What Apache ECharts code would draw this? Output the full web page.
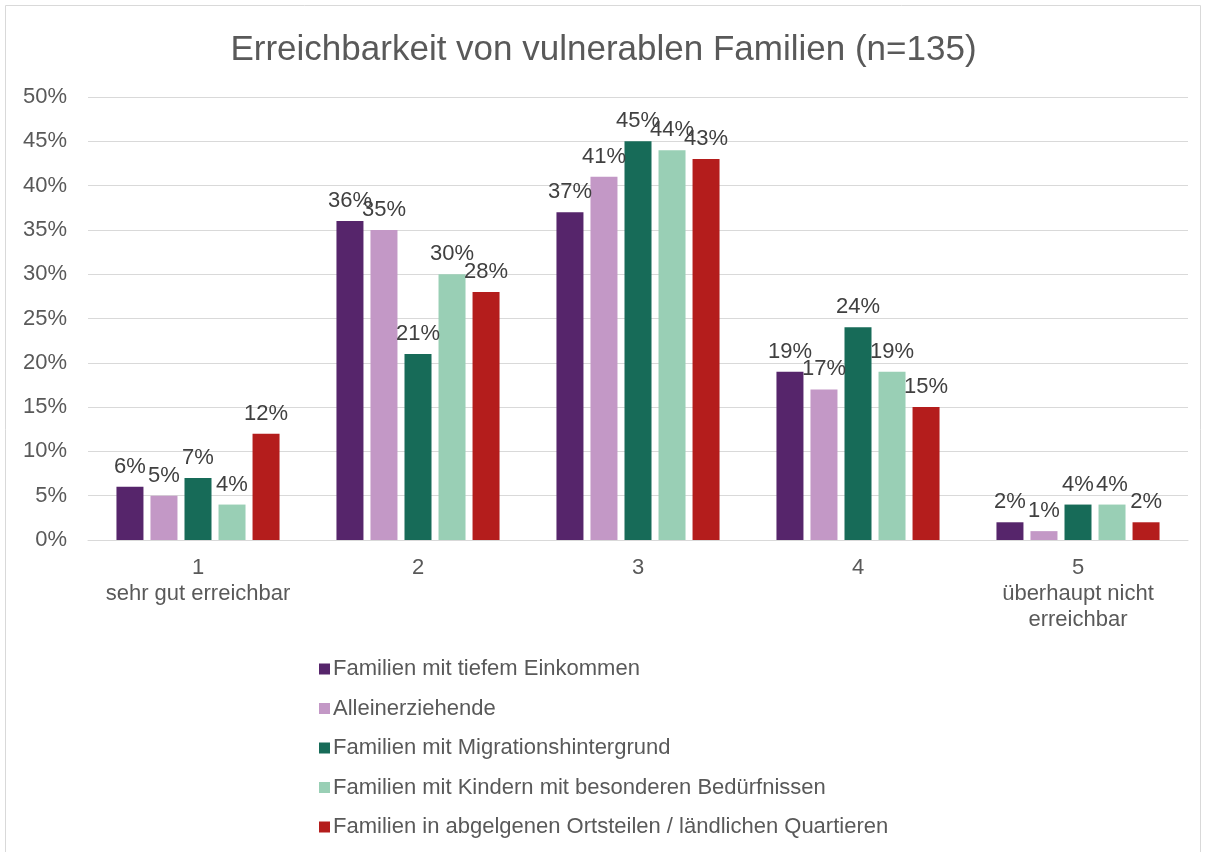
<!DOCTYPE html>
<html>
<head>
<meta charset="utf-8">
<script src="https://cdn.jsdelivr.net/npm/echarts@6/dist/echarts.min.js"></script>
<style>
  html, body { margin: 0; padding: 0; background: #fff; }
  #chart { width: 1207px; height: 852px; }
</style>
</head>
<body>
<div id="chart"></div>
<script>
  // Kategorien (Skala 1-5)
  var categories = ['1\nsehr gut erreichbar', '2', '3', '4', '5\nüberhaupt nicht\nerreichbar'];
  var seriesNames = [
    'Familien mit tiefem Einkommen',
    'Alleinerziehende',
    'Familien mit Migrationshintergrund',
    'Familien mit Kindern mit besonderen Bedürfnissen',
    'Familien in abgelgenen Ortsteilen / ländlichen Quartieren'
  ];
  var tiefesEinkommen = [6, 36, 37, 19, 2];
  var alleinerziehende = [5, 35, 41, 17, 1];
  var migration = [7, 21, 45, 24, 4];
  var besondereBeduerfnisse = [4, 30, 44, 19, 4];
  var abgelegen = [12, 28, 43, 15, 2];
  var colors = ['#56256b', '#c398c6', '#176b58', '#99cfb5', '#b41d1c'];

  var chart = echarts.init(document.getElementById('chart'));
  var font = 'Liberation Sans, Arial, sans-serif';

  function makeSeries(i, data) {
    return {
      name: seriesNames[i],
      type: 'bar',
      data: data,
      barWidth: 27,
      barGap: '26%',
      itemStyle: { color: colors[i] },
      label: {
        show: true,
        position: 'top',
        distance: 9,
        formatter: '{c}%',
        color: '#404040',
        fontSize: 22,
        fontFamily: font
      }
    };
  }

  var option = {
    animation: false,
    color: colors,
    textStyle: { fontFamily: font },
    title: {
      text: 'Erreichbarkeit von vulnerablen Familien (n=135)',
      left: 'center',
      top: 28,
      textStyle: { color: '#595959', fontSize: 35, fontWeight: 'normal', fontFamily: font }
    },
    graphic: [{
      type: 'rect',
      shape: { x: 5.5, y: 5.5, width: 1195, height: 860 },
      style: { fill: 'none', stroke: '#d9d9d9', lineWidth: 1 },
      silent: true
    }],
    grid: { left: 88, right: 19, top: 97, bottom: 312 },
    legend: {
      orient: 'vertical',
      left: 314,
      top: 653,
      itemWidth: 11,
      itemHeight: 11,
      itemGap: 17.5,
      icon: 'rect',
      textStyle: { color: '#595959', fontSize: 22, fontFamily: font, padding: [0, 0, 0, -2] },
      data: seriesNames
    },
    xAxis: {
      type: 'category',
      data: categories,
      axisLine: { lineStyle: { color: '#d9d9d9' } },
      axisTick: { show: false },
      axisLabel: { interval: 0, color: '#595959', fontSize: 22, lineHeight: 26, margin: 15, fontFamily: font }
    },
    yAxis: {
      type: 'value',
      min: 0,
      max: 50,
      interval: 5,
      axisLine: { show: false },
      axisTick: { show: false },
      splitLine: { lineStyle: { color: '#d9d9d9', width: 1 } },
      axisLabel: { formatter: '{value}%', color: '#595959', fontSize: 22, margin: 21, fontFamily: font }
    },
    series: [
      makeSeries(0, tiefesEinkommen),
      makeSeries(1, alleinerziehende),
      makeSeries(2, migration),
      makeSeries(3, besondereBeduerfnisse),
      makeSeries(4, abgelegen)
    ]
  };

  chart.setOption(option);
</script>
</body>
</html>
